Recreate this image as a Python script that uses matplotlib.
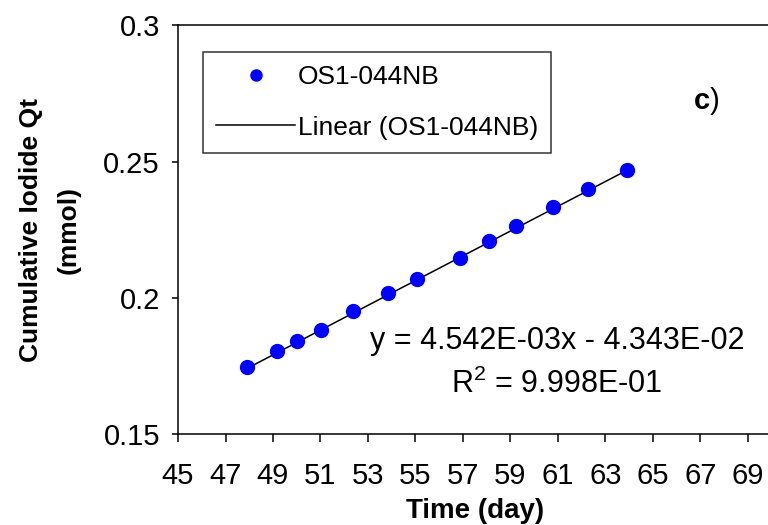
import matplotlib.pyplot as plt
import numpy as np

plt.rcParams['font.family'] = ['Liberation Sans', 'DejaVu Sans']
plt.rcParams['mathtext.fontset'] = 'custom'
plt.rcParams['mathtext.rm'] = 'Liberation Sans'
plt.rcParams['mathtext.bf'] = 'Liberation Sans:bold'

# data
time_day = [47.9, 49.15, 50.03, 51.04, 52.39, 53.86, 55.08, 56.89, 58.1, 59.24, 60.8, 62.27, 63.92]
qt_mmol = [0.1746, 0.1805, 0.1842, 0.1882, 0.1952, 0.2018, 0.2070, 0.2147, 0.2210, 0.2265, 0.2335, 0.2401, 0.2471]
slope = 4.542e-03
intercept = -4.343e-02
x_ticks = list(range(45, 71, 2))
y_ticks = [0.15, 0.2, 0.25, 0.3]
y_tick_labels = ["0.15", "0.2", "0.25", "0.3"]

fig = plt.figure(figsize=(7.68, 5.25), dpi=100)
# right edge of the plot area runs just past the picture, as in the original crop
ax = fig.add_axes([0.2318, 0.1728, 0.7728, 0.7788])

ax.plot(time_day, qt_mmol, 'o', color='#0000ff', markersize=10, label="OS1-044NB", zorder=3)
xfit = np.array([time_day[0], time_day[-1]])
ax.plot(xfit, slope * xfit + intercept, color='black', linewidth=1.1, label="Linear (OS1-044NB)", zorder=2)

ax.set_xlim(45, 70)
ax.set_ylim(0.15, 0.3)
ax.set_xticks(x_ticks)
ax.set_yticks(y_ticks)
ax.set_yticklabels(y_tick_labels)
ax.tick_params(axis='both', direction='out', width=1.1, labelsize=21)
ax.tick_params(axis='y', length=4.5, pad=8.5)
ax.tick_params(axis='x', length=6, pad=14)
ax.spines['right'].set_visible(False)
for s in ['left', 'bottom', 'top']:
    ax.spines[s].set_linewidth(1.1)

ax.set_xlabel("Time (day)", fontsize=20, fontweight='bold', labelpad=6)
ax.set_ylabel("Cumulative Iodide Qt\n(mmol)", fontsize=19, fontweight='bold', labelpad=16,
              linespacing=1.75)

leg = ax.legend(loc='upper left', bbox_to_anchor=(0.042, 0.935), borderaxespad=0,
                fontsize=19, frameon=True, fancybox=False, edgecolor='black',
                handlelength=3.0, handletextpad=0.1, markerscale=0.8,
                borderpad=0.5, labelspacing=1.0)
leg.get_frame().set_linewidth(1.1)

ax.text(0.6386, 0.228, "y = 4.542E-03x - 4.343E-02", transform=ax.transAxes, fontsize=22,
        ha='center', va='center')
ax.text(0.6386, 0.123, "R$^2$ = 9.998E-01", transform=ax.transAxes, fontsize=22,
        ha='center', va='center')
ax.text(0.89, 0.815, r"$\mathbf{c}$)", transform=ax.transAxes, fontsize=21,
        ha='center', va='center')

fig.savefig("out.png", dpi=100)
